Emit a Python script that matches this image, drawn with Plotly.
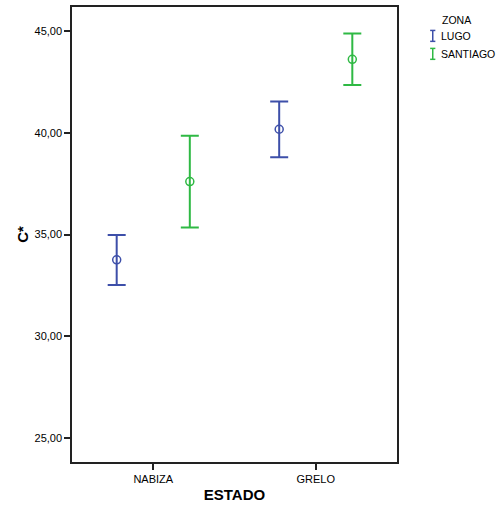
import plotly.graph_objects as go

categories = ["NABIZA", "GRELO"]
zones = ["LUGO", "SANTIAGO"]
lugo_mean = [33.76, 40.17]
lugo_upper = [34.98, 41.53]
lugo_lower = [32.53, 38.80]
sant_mean = [37.60, 43.60]
sant_upper = [39.85, 44.87]
sant_lower = [35.35, 42.34]
ytick_vals = [25, 30, 35, 40, 45]
ytick_text = ["25,00", "30,00", "35,00", "40,00", "45,00"]

colors = {"LUGO": "#3d4fa9", "SANTIAGO": "#2fb944"}
offsets = {"LUGO": -0.225, "SANTIAGO": 0.225}
series = {
    "LUGO": (lugo_mean, lugo_upper, lugo_lower),
    "SANTIAGO": (sant_mean, sant_upper, sant_lower),
}

FONT = "Liberation Sans, Arial, sans-serif"
fig = go.Figure()
for z in zones:
    m, up, lo = series[z]
    xs = [i + offsets[z] for i in range(len(categories))]
    fig.add_trace(go.Scatter(
        x=xs, y=m, mode="markers", name=z, showlegend=False,
        marker=dict(symbol="circle-open", size=8, color=colors[z], line=dict(width=1.5)),
        error_y=dict(type="data", symmetric=False,
                     array=[u - v for u, v in zip(up, m)],
                     arrayminus=[v - l for v, l in zip(m, lo)],
                     color=colors[z], thickness=2, width=9),
    ))

# manual legend (paper coords relative to plot area)
fig.add_annotation(x=1.132, y=0.972, xref="paper", yref="paper", text="ZONA",
                   showarrow=False, xanchor="left", yanchor="middle",
                   font=dict(family=FONT, size=10.5, color="#000"))
leg_y = [0.9365, 0.897]
for z, yy in zip(zones, leg_y):
    fig.add_annotation(x=1.129, y=yy, xref="paper", yref="paper", text=z,
                       showarrow=False, xanchor="left", yanchor="middle",
                       font=dict(family=FONT, size=10.5, color="#000"))
    c = colors[z]
    h = 0.012
    xc = 1.110
    w = 0.008
    fig.add_shape(type="line", xref="paper", yref="paper", x0=xc, x1=xc,
                  y0=yy - h, y1=yy + h, line=dict(color=c, width=1.5))
    fig.add_shape(type="line", xref="paper", yref="paper", x0=xc - w, x1=xc + w,
                  y0=yy + h, y1=yy + h, line=dict(color=c, width=1.5))
    fig.add_shape(type="line", xref="paper", yref="paper", x0=xc - w, x1=xc + w,
                  y0=yy - h, y1=yy - h, line=dict(color=c, width=1.5))

fig.update_layout(
    width=497, height=508,
    margin=dict(l=72, r=100, t=5, b=46),
    paper_bgcolor="white", plot_bgcolor="white",
    font=dict(family=FONT, size=11, color="#000"),
    showlegend=False,
    xaxis=dict(range=[-0.5, 1.5], tickvals=[0, 1], ticktext=categories,
               showgrid=False, zeroline=False, showline=True, mirror=True,
               linecolor="#222", linewidth=1.5, ticks="outside", ticklen=6,
               tickwidth=1.5, tickcolor="#222",
               title=dict(text="<b>ESTADO</b>", font=dict(size=15, family=FONT), standoff=6)),
    yaxis=dict(range=[23.84, 46.17], tickvals=ytick_vals, ticktext=ytick_text,
               showgrid=False, zeroline=False, showline=True, mirror=True,
               linecolor="#222", linewidth=1.5, ticks="outside", ticklen=6,
               tickwidth=1.5, tickcolor="#222",
               title=dict(text="<b>C*</b>", font=dict(size=15, family=FONT), standoff=2)),
)

fig.write_html("out.html", config={"displayModeBar": False},
               post_script="document.body.style.margin='0';")
